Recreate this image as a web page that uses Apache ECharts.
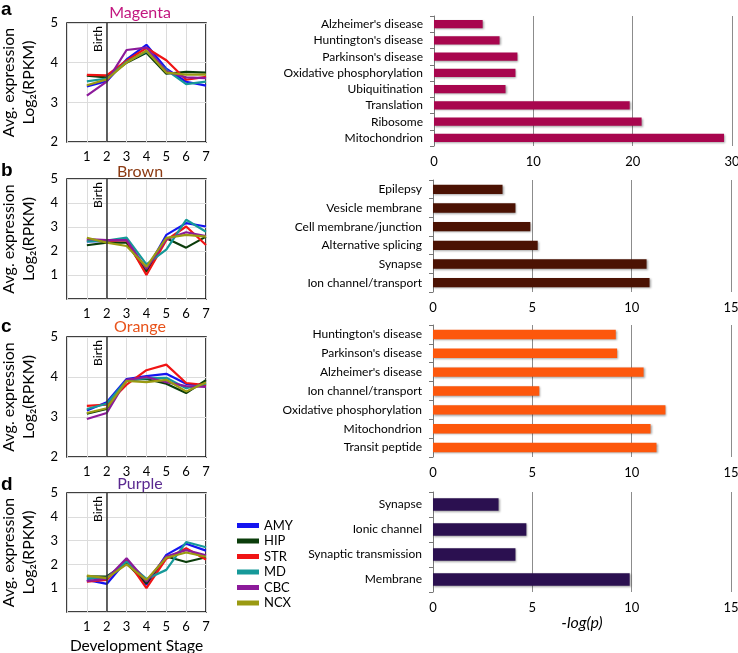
<!DOCTYPE html>
<html>
<head>
<meta charset="utf-8">
<script src="https://cdn.jsdelivr.net/npm/echarts@6/dist/echarts.min.js"></script>
<style>html,body{margin:0;padding:0;background:#fff}#main{width:738px;height:653px}</style>
</head>
<body>
<div id="main"></div>
<script>
var myChart = echarts.init(document.getElementById('main'));

// development stages and regions
var stages = [1, 2, 3, 4, 5, 6, 7];
var regions = ['AMY', 'HIP', 'STR', 'MD', 'CBC', 'NCX'];
var regionColors = ['#1414f0', '#0b3d0b', '#f01414', '#169999', '#8c1a9a', '#9a9a12'];

// module a - Magenta
var magentaAMY = [3.40, 3.53, 4.08, 4.45, 3.85, 3.52, 3.42];
var magentaHIP = [3.67, 3.63, 4.00, 4.25, 3.72, 3.77, 3.75];
var magentaSTR = [3.69, 3.68, 4.05, 4.37, 4.06, 3.57, 3.64];
var magentaMD  = [3.53, 3.60, 4.02, 4.28, 3.82, 3.46, 3.52];
var magentaCBC = [3.17, 3.52, 4.32, 4.38, 3.78, 3.63, 3.61];
var magentaNCX = [3.43, 3.58, 4.00, 4.30, 3.75, 3.70, 3.70];
// module b - Brown
var brownAMY = [2.40, 2.42, 2.48, 1.20, 2.67, 3.16, 3.02];
var brownHIP = [2.24, 2.35, 2.35, 1.13, 2.53, 2.14, 2.60];
var brownSTR = [2.43, 2.42, 2.45, 1.00, 2.45, 3.02, 2.25];
var brownMD  = [2.40, 2.43, 2.56, 1.44, 2.06, 3.30, 2.80];
var brownCBC = [2.50, 2.45, 2.45, 1.25, 2.49, 2.78, 2.62];
var brownNCX = [2.55, 2.35, 2.21, 1.34, 2.55, 2.67, 2.60];
// module c - Orange
var orangeAMY = [3.16, 3.37, 3.95, 4.02, 4.08, 3.83, 3.77];
var orangeHIP = [3.08, 3.20, 3.92, 3.95, 3.83, 3.60, 3.92];
var orangeSTR = [3.28, 3.31, 3.81, 4.17, 4.31, 3.85, 3.80];
var orangeMD  = [3.20, 3.33, 3.92, 3.97, 3.98, 3.72, 3.83];
var orangeCBC = [2.95, 3.10, 3.93, 4.00, 3.87, 3.77, 3.75];
var orangeNCX = [3.10, 3.22, 3.90, 3.87, 3.93, 3.64, 3.86];
// module d - Purple
var purpleAMY = [1.35, 1.18, 2.16, 1.14, 2.40, 2.87, 2.58];
var purpleHIP = [1.50, 1.49, 2.05, 1.20, 2.33, 2.10, 2.30];
var purpleSTR = [1.28, 1.35, 2.20, 1.00, 2.24, 2.68, 2.20];
var purpleMD  = [1.39, 1.45, 2.12, 1.39, 1.77, 2.94, 2.72];
var purpleCBC = [1.30, 1.40, 2.26, 1.28, 2.33, 2.60, 2.38];
var purpleNCX = [1.53, 1.42, 2.00, 1.35, 2.28, 2.50, 2.32];

// enrichment bars (-log(p))
var termsA = ["Alzheimer's disease", "Huntington's disease", "Parkinson's disease", "Oxidative phosphorylation", "Ubiquitination", "Translation", "Ribosome", "Mitochondrion"];
var valuesA = [4.9, 6.6, 8.4, 8.2, 7.2, 19.7, 20.9, 29.2];
var termsB = ["Epilepsy", "Vesicle membrane", "Cell membrane/junction", "Alternative splicing", "Synapse", "Ion channel/transport"];
var valuesB = [3.5, 4.15, 4.9, 5.27, 10.75, 10.9];
var termsC = ["Huntington's disease", "Parkinson's disease", "Alzheimer's disease", "Ion channel/transport", "Oxidative phosphorylation", "Mitochondrion", "Transit peptide"];
var valuesC = [9.2, 9.27, 10.6, 5.35, 11.7, 10.95, 11.25];
var termsD = ["Synapse", "Ionic channel", "Synaptic transmission", "Membrane"];
var valuesD = [3.3, 4.7, 4.15, 9.9];

var font = 'Lato, "Open Sans", sans-serif';

var panels = [
    {name: 'Magenta', color: '#c2177f', bar: '#a8064e', lines: [magentaAMY, magentaHIP, magentaSTR, magentaMD, magentaCBC, magentaNCX], ymin: 2, terms: termsA, vals: valuesA, xmax: 30, xint: 10,
     lineGrid: {left: 67, top: 23, width: 139, height: 119}, barGrid: {left: 434, top: 16, width: 298, height: 130}, titleTop: 5, letterTop: 0},
    {name: 'Brown', color: '#8b3a12', bar: '#4b1203', lines: [brownAMY, brownHIP, brownSTR, brownMD, brownCBC, brownNCX], ymin: 0, terms: termsB, vals: valuesB, xmax: 15, xint: 5,
     lineGrid: {left: 67, top: 179, width: 139, height: 120}, barGrid: {left: 433, top: 180, width: 298, height: 112}, titleTop: 164, letterTop: 161},
    {name: 'Orange', color: '#e8521a', bar: '#fd570c', lines: [orangeAMY, orangeHIP, orangeSTR, orangeMD, orangeCBC, orangeNCX], ymin: 2, terms: termsC, vals: valuesC, xmax: 15, xint: 5,
     lineGrid: {left: 67, top: 337, width: 139, height: 120}, barGrid: {left: 433, top: 325, width: 298, height: 132}, titleTop: 319, letterTop: 317},
    {name: 'Purple', color: '#5a2990', bar: '#2b1050', lines: [purpleAMY, purpleHIP, purpleSTR, purpleMD, purpleCBC, purpleNCX], ymin: 0, terms: termsD, vals: valuesD, xmax: 15, xint: 5,
     lineGrid: {left: 67, top: 493, width: 139, height: 119}, barGrid: {left: 433, top: 492, width: 298, height: 100}, titleTop: 476, letterTop: 475}
];
var letters = ['a', 'b', 'c', 'd'];

var grid = [], xAxis = [], yAxis = [], series = [], title = [];

panels.forEach(function (p, i) {
    var gl = i * 2, gb = i * 2 + 1;
    var lg = p.lineGrid, bg = p.barGrid;
    grid.push({left: lg.left, top: lg.top, width: lg.width, height: lg.height, show: true, borderColor: '#000', borderWidth: 1.5, backgroundColor: 'transparent', outerBoundsMode: 'none', containLabel: false});
    grid.push({left: bg.left, top: bg.top, width: bg.width, height: bg.height, outerBoundsMode: 'none', containLabel: false});

    title.push({text: p.name, left: 140, top: p.titleTop, textAlign: 'center', padding: 0, textStyle: {color: p.color, fontSize: 16, fontWeight: 'normal', fontFamily: font}});
    title.push({text: letters[i], left: 1, top: p.letterTop, padding: 0, textStyle: {color: '#000', fontSize: 19, fontWeight: 'bold', fontFamily: 'Liberation Sans, Arial'}});

    // line panel axes
    xAxis.push({
        gridIndex: gl, type: 'value', min: 0, max: 7, interval: 1,
        axisLine: {show: false}, axisTick: {show: false},
        axisLabel: {margin: 8, color: '#000', fontSize: 13, fontFamily: font, formatter: function (v) { return v === 0 ? '' : v; }},
        splitLine: {show: true, lineStyle: {color: '#dcdcdc', width: 1}},
        name: i === 3 ? 'Development Stage' : '', nameLocation: 'middle', nameGap: 26,
        nameTextStyle: {color: '#000', fontSize: 15.5, fontFamily: font}
    });
    yAxis.push({
        gridIndex: gl, type: 'value', min: p.ymin, max: 5, interval: 1,
        axisLine: {show: false}, axisTick: {show: false},
        axisLabel: {margin: 9, color: '#000', fontSize: 13, fontFamily: font, formatter: function (v) { return v === 0 ? '' : v; }},
        splitLine: {show: true, lineStyle: {color: '#dcdcdc', width: 1}},
        name: 'Avg. expression\nLog\u2082(RPKM)', nameLocation: 'middle', nameRotate: 90, nameGap: 28,
        nameTextStyle: {color: '#000', fontSize: 16, lineHeight: 20, fontFamily: font}
    });

    // bar panel axes
    xAxis.push({
        gridIndex: gb, type: 'value', min: 0, max: p.xmax, interval: p.xint,
        axisLine: {show: false}, axisTick: {show: false},
        axisLabel: {margin: 9, color: '#000', fontSize: 13, fontFamily: font},
        splitLine: {show: true, lineStyle: {color: '#8c8c8c', width: 1}},
        name: i === 3 ? '-log(p)' : '', nameLocation: 'middle', nameGap: 22,
        nameTextStyle: {color: '#000', fontSize: 16, fontStyle: 'italic', fontFamily: font}
    });
    yAxis.push({
        gridIndex: gb, type: 'category', inverse: true, data: p.terms,
        axisLine: {show: true, lineStyle: {color: '#777', width: 1}},
        axisTick: {show: true, length: 4, lineStyle: {color: '#777'}},
        axisLabel: {margin: 11, interval: 0, color: '#000', fontSize: 12, fontFamily: font}
    });

    p.lines.forEach(function (vals, k) {
        var s = {
            name: regions[k], type: 'line', xAxisIndex: gl, yAxisIndex: gl,
            data: stages.map(function (st, j) { return [st, vals[j]]; }),
            symbol: 'none', lineStyle: {color: regionColors[k], width: 2.2}, itemStyle: {color: regionColors[k]},
            z: 3
        };
        if (k === 0) {
            s.markLine = {
                silent: true, symbol: 'none',
                lineStyle: {color: '#333', width: 1.5, type: 'solid'},
                label: {show: true, position: 'insideEndTop', formatter: 'Birth', color: '#000', fontSize: 12, fontFamily: font, distance: 3},
                data: [{xAxis: 2}]
            };
        }
        series.push(s);
    });

    series.push({
        type: 'bar', xAxisIndex: gb, yAxisIndex: gb, data: p.vals, barWidth: '50%',
        itemStyle: {color: p.bar, shadowBlur: 2, shadowColor: 'rgba(0,0,0,0.35)', shadowOffsetX: 1, shadowOffsetY: 1},
        z: 3
    });
});

var option = {
    animation: false,
    textStyle: {fontFamily: font},
    title: title,
    legend: {
        data: regions, orient: 'vertical', left: 232, top: 514,
        icon: 'rect', itemWidth: 22, itemHeight: 5, itemGap: 2.5,
        textStyle: {color: '#000', fontSize: 13, fontFamily: font}
    },
    grid: grid,
    xAxis: xAxis,
    yAxis: yAxis,
    series: series
};

myChart.setOption(option);
</script>
</body>
</html>
